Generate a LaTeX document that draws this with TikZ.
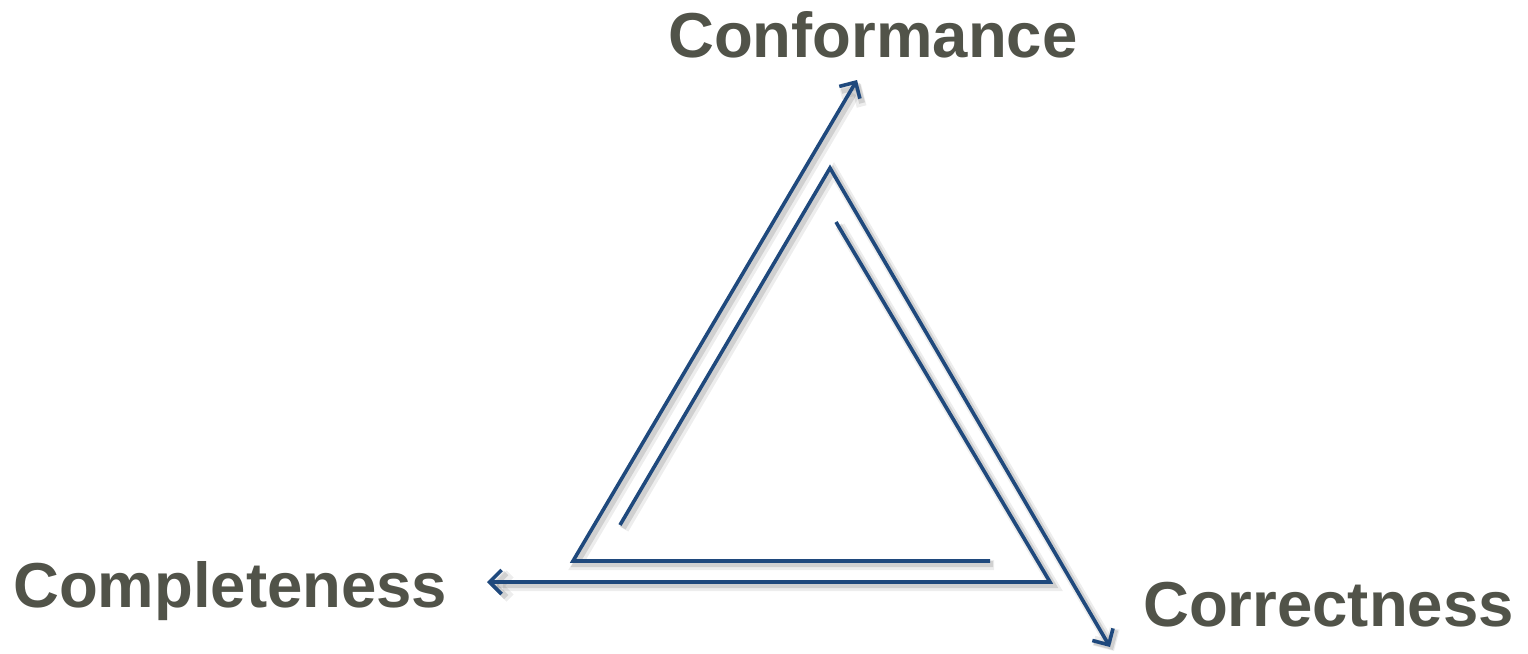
\documentclass[tikz,border=0pt]{standalone}
\usepackage{fontspec}
\setmainfont{Liberation Sans}
\usetikzlibrary{arrows.meta}
\definecolor{navy}{RGB}{31,73,125}
\definecolor{slate}{RGB}{81,83,73}

\begin{document}
\begin{tikzpicture}[x=1pt,y=-1pt,>={Straight Barb[length=12pt,width=24pt]},
  every node/.style={font=\fontsize{63.5}{70}\selectfont\bfseries,text=slate,inner sep=0pt,anchor=base west},
  flow/.style={->,draw=navy,line width=3.6pt,
    preaction={draw=black,opacity=.07,line width=10pt,transform canvas={shift={(4pt,-4pt)}}},
    preaction={draw=black,opacity=.12,line width=6pt,transform canvas={shift={(3pt,-3pt)}}}}]
  \useasboundingbox (0,0) rectangle (1528,653);
  % labels at the three tips
  \node (conf) at (668,57) {Conformance};
  \node (comp) at (13,607) {Completeness};
  \node (corr) at (1143,626) {Correctness};
  % free ends, bends and tips of the three bent arrows
  \coordinate (confStart) at (990,561);
  \coordinate (confBend) at (573,561);
  \coordinate (confTip) at (857,80);
  \coordinate (corrStart) at (620,525);
  \coordinate (corrBend) at (830,168);
  \coordinate (corrTip) at (1110,647);
  \coordinate (compStart) at (836,222);
  \coordinate (compBend) at (1050,582);
  \coordinate (compTip) at (487,582);
  \draw[flow] (confStart) -- (confBend) -- (confTip);
  \draw[flow] (corrStart) -- (corrBend) -- (corrTip);
  \draw[flow] (compStart) -- (compBend) -- (compTip);
\end{tikzpicture}
\end{document}
